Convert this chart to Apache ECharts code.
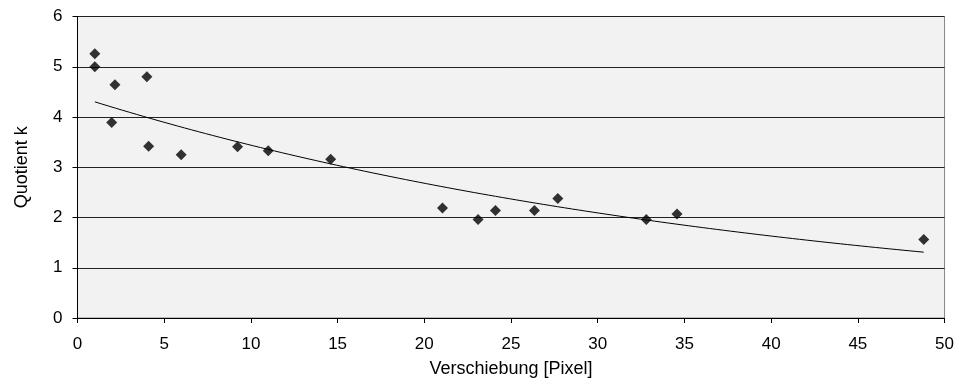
<!DOCTYPE html>
<html>
<head>
<meta charset="utf-8">
<script src="https://cdn.jsdelivr.net/npm/echarts@6/dist/echarts.min.js"></script>
<style>
html,body{margin:0;padding:0;background:#fff;}
#c{width:957px;height:383px;}
</style>
</head>
<body>
<div id="c"></div>
<script>
// Data
var shiftPx = [1.0, 1.0, 2.16, 1.97, 4.0, 4.1, 5.98, 9.23, 11.0, 14.6, 21.05, 23.1, 24.1, 26.35, 27.7, 32.8, 34.57, 48.8];
var quotientK = [5.26, 5.0, 4.64, 3.89, 4.80, 3.42, 3.25, 3.41, 3.33, 3.16, 2.19, 1.96, 2.14, 2.14, 2.38, 1.96, 2.07, 1.56];
var xTicks = [0, 5, 10, 15, 20, 25, 30, 35, 40, 45, 50];
var yTicks = [0, 1, 2, 3, 4, 5, 6];
var xTitle = 'Verschiebung [Pixel]';
var yTitle = 'Quotient k';

// Exponential trendline (least squares on ln y), as the original chart's trendline
function expTrend(xs, ys, steps) {
  var n = xs.length, sx = 0, sy = 0, sxx = 0, sxy = 0;
  for (var i = 0; i < n; i++) {
    var ly = Math.log(ys[i]);
    sx += xs[i]; sy += ly; sxx += xs[i] * xs[i]; sxy += xs[i] * ly;
  }
  var b = (n * sxy - sx * sy) / (n * sxx - sx * sx);
  var lnA = (sy - b * sx) / n;
  var xmin = Math.min.apply(null, xs), xmax = Math.max.apply(null, xs);
  var out = [];
  for (var k = 0; k <= steps; k++) {
    var x = xmin + (xmax - xmin) * k / steps;
    out.push([x, Math.exp(lnA + b * x)]);
  }
  return out;
}

var points = shiftPx.map(function (x, i) { return [x, quotientK[i]]; });
var trend = expTrend(shiftPx, quotientK, 120);

var font = 'Liberation Sans, Arial, sans-serif';
var chart = echarts.init(document.getElementById('c'), null, {renderer: 'canvas'});
chart.setOption({
  animation: false,
  backgroundColor: '#ffffff',
  grid: {
    left: 77.5, right: 12, top: 16.5, bottom: 63,
    show: true, backgroundColor: '#f2f2f2', borderColor: '#888888', borderWidth: 1
  },
  xAxis: {
    type: 'value', min: xTicks[0], max: xTicks[xTicks.length - 1], interval: 5,
    name: xTitle, nameLocation: 'middle', nameGap: 42,
    nameTextStyle: {fontFamily: font, fontSize: 18, color: '#000'},
    axisLine: {show: true, onZero: false, lineStyle: {color: '#000', width: 1}},
    axisTick: {show: true, inside: false, length: 5, lineStyle: {color: '#000'}},
    axisLabel: {fontFamily: font, fontSize: 17, color: '#000', margin: 18},
    splitLine: {show: false}
  },
  yAxis: {
    type: 'value', min: yTicks[0], max: yTicks[yTicks.length - 1], interval: 1,
    name: yTitle, nameLocation: 'middle', nameGap: 46, nameRotate: 90,
    nameTextStyle: {fontFamily: font, fontSize: 18, color: '#000'},
    axisLine: {show: true, onZero: false, lineStyle: {color: '#000', width: 1}},
    axisTick: {show: true, inside: false, length: 5, lineStyle: {color: '#000'}},
    axisLabel: {fontFamily: font, fontSize: 17, color: '#000', margin: 15},
    splitLine: {show: true, lineStyle: {color: '#222222', width: 1}}
  },
  series: [
    {
      type: 'line', data: trend, showSymbol: false, symbol: 'none',
      lineStyle: {color: '#000', width: 1}, z: 2, silent: true
    },
    {
      type: 'scatter', data: points, symbol: 'diamond', symbolSize: [11, 11],
      itemStyle: {color: '#000'}, z: 3
    }
  ]
});
</script>
</body>
</html>
